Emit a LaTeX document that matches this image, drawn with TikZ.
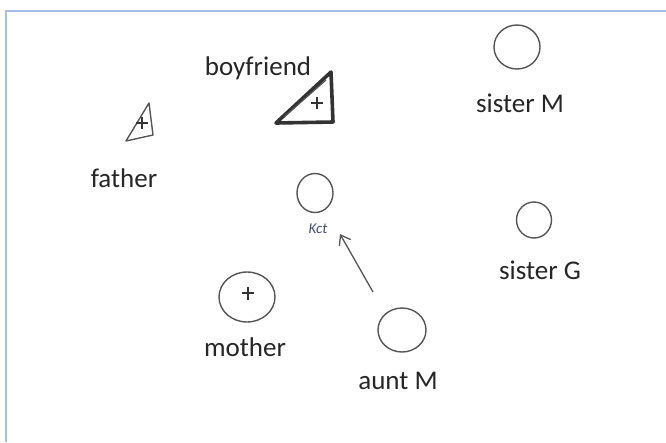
\documentclass[tikz,border=0pt]{standalone}
\usepackage{fontspec}
\setmainfont{Carlito}
\usetikzlibrary{shapes.geometric,arrows.meta}
\definecolor{pencil}{RGB}{85,85,85}
\definecolor{framebl}{RGB}{165,190,232}
\definecolor{inkbl}{RGB}{70,80,110}
\begin{document}
\begin{tikzpicture}[x=1pt,y=-1pt,
  person/.style={draw=pencil,line width=1.4pt,ellipse,inner sep=0pt},
  lbl/.style={font=\fontsize{27}{31}\selectfont,text=black!85,inner sep=0pt},
  plus/.style={draw=black!80,line width=1.6pt}]
\useasboundingbox (0,0) rectangle (666,442);
\fill[white] (0,0) rectangle (666,442);
\draw[framebl,line width=2pt] (5.5,442) -- (5.5,10.5) -- (666,10.5);
% labels
\node[lbl] (lboy) at (258,68) {boyfriend};
\node[lbl] (lsm) at (520,103) {sister M};
\node[lbl] (lfa) at (124,178) {father};
\node[lbl] (lsg) at (540,270) {sister G};
\node[lbl] (lmo) at (245,347) {mother};
\node[lbl] (lau) at (398,381) {aunt M};
\node[font=\fontsize{15}{16}\selectfont\itshape,text=inkbl,inner sep=0pt] (lkid) at (318,229) {Kct};
% circles
\node[person,minimum width=46pt,minimum height=44pt] (sm) at (517,47) {};
\node[person,minimum width=36pt,minimum height=39pt] (kid) at (315,193) {};
\node[person,minimum width=56pt,minimum height=50pt] (mo) at (247,297) {};
\node[person,minimum width=48pt,minimum height=44pt] (au) at (402,330) {};
\node[person,minimum width=35pt,minimum height=36pt] (sg) at (534,220) {};
% plus in mother
\draw[plus] (248,287) -- (248,300) (242,293) -- (254,293);
% boyfriend triangle
\coordinate (b1) at (276,123);
\coordinate (b2) at (331,72);
\coordinate (b3) at (333,122);
\draw[black!80,line width=3.6pt,line join=round] (b1) -- (b2) -- (b3) -- cycle;
\draw[pencil,line width=1.2pt] (284,117) -- (326,80);
\draw[plus] (317,97) -- (317,109) (311,103) -- (323,103);
% father triangle
\coordinate (f1) at (126,141);
\coordinate (f2) at (149,103);
\coordinate (f3) at (153,135);
\draw[pencil,line width=1.4pt,line join=round] (f1) -- (f2) -- (f3) -- cycle;
\draw[plus] (142,117) -- (142,129) (136,123) -- (148,123);
% arrow
\coordinate (at) at (373,292);
\coordinate (ah) at (340,234);
\draw[pencil,line width=1.3pt,-{Straight Barb[length=9pt,width=13pt]}] (at) -- (ah);
\end{tikzpicture}
\end{document}
